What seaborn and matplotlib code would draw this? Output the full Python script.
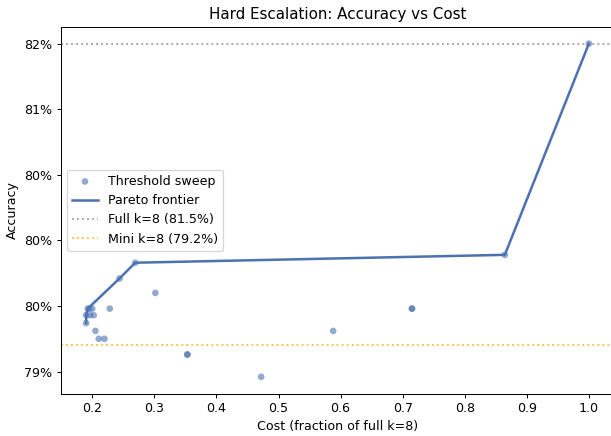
import matplotlib
matplotlib.use("Agg")
import matplotlib.pyplot as plt
import seaborn as sns
import numpy as np
from matplotlib.ticker import PercentFormatter

# threshold sweep results (cost fraction vs accuracy)
sweep_cost = [0.190, 0.190, 0.1926, 0.1953, 0.1997, 0.1964, 0.2023, 0.205, 0.2103,
              0.2195, 0.2281, 0.2438, 0.2691, 0.3015, 0.3531, 0.3531, 0.472,
              0.588, 0.715, 0.715, 0.8646, 1.0]
sweep_acc = [0.7937, 0.7943, 0.7948, 0.7948, 0.7948, 0.7943, 0.7943, 0.7931, 0.7925,
             0.7925, 0.7948, 0.7971, 0.7983, 0.7960, 0.7913, 0.7913, 0.7896,
             0.7931, 0.7948, 0.7948, 0.7989, 0.815]

# pareto frontier
pareto_cost = [0.190, 0.190, 0.1926, 0.2438, 0.2691, 0.8646, 1.0]
pareto_acc = [0.7937, 0.7943, 0.7948, 0.7971, 0.7983, 0.7989, 0.815]

full_acc = 0.815
mini_acc = 0.792

blue = sns.color_palette("deep")[0]
DPI = 90.8
W, H = 611, 436

fig, ax = plt.subplots(figsize=(W / DPI, H / DPI), dpi=DPI)

sns.lineplot(x=pareto_cost, y=pareto_acc, ax=ax, color=blue, linewidth=2,
             estimator=None, sort=False, label="Pareto frontier", zorder=2)
sns.scatterplot(x=sweep_cost, y=sweep_acc, ax=ax, color=blue, alpha=0.6, s=28,
                edgecolor="none", label="Threshold sweep", zorder=3)
ax.axhline(full_acc, color="gray", linestyle=":", alpha=0.7, label=f"Full k=8 ({full_acc:.1%})")
ax.axhline(mini_acc, color="orange", linestyle=":", alpha=0.7, label=f"Mini k=8 ({mini_acc:.1%})")

ax.yaxis.set_major_formatter(PercentFormatter(1.0, decimals=0))
ax.set_xlabel("Cost (fraction of full k=8)")
ax.set_ylabel("Accuracy")
ax.set_title("Hard Escalation: Accuracy vs Cost")

# legend order: sweep, frontier, full, mini
h, l = ax.get_legend_handles_labels()
order = [l.index("Threshold sweep"), l.index("Pareto frontier"),
         l.index(l[2]), l.index(l[3])]
ax.legend([h[i] for i in order], [l[i] for i in order], loc="center left")

# the original was cropped on the right, so the axes run past the edge
ax.set_position([61 / W, (H - 393.5) / H, 553 / W, 366.5 / H])
plt.savefig("out.png", dpi=DPI)
